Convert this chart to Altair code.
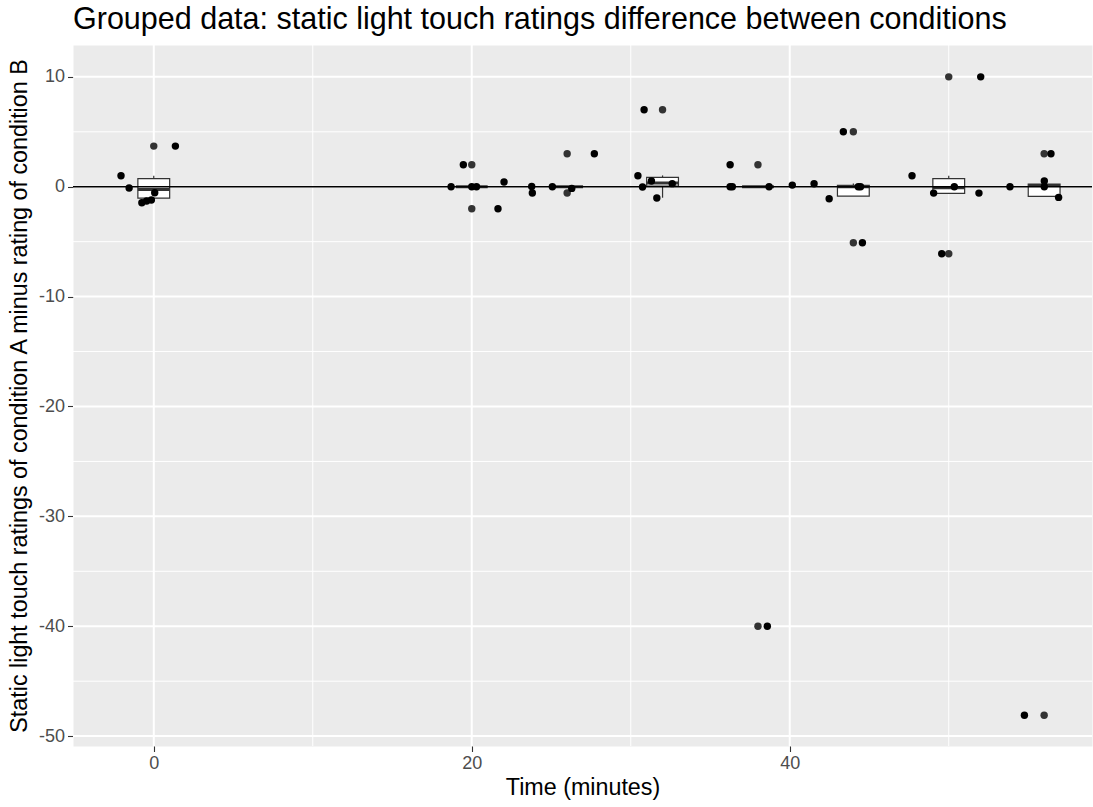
import altair as alt
import pandas as pd

# Box summaries per measurement time (minutes)
times = [0, 20, 26, 32, 38, 44, 50, 56]
q1 = [-1.03, 0.0, 0.0, 0.05, 0.0, -0.85, -0.61, -0.88]
median = [-0.24, 0.0, 0.0, 0.33, 0.0, 0.0, -0.1, 0.12]
q3 = [0.73, 0.0, 0.0, 0.85, 0.0, 0.12, 0.73, 0.25]
whisker_lo = [-1.3, 0.0, 0.0, -1.0, 0.0, -0.85, -0.61, -0.88]
whisker_hi = [1.0, 0.0, 0.0, 1.03, 0.0, 0.3, 1.0, 0.52]
box_half_width = 1.0

# Outliers, drawn at the box centre
outlier_time = [0, 20, 20, 26, 26, 32, 38, 38, 44, 44, 50, 50, 56, 56]
outlier_diff = [3.7, 2.0, -2.0, 3.0, -0.57, 7.0, 2.0, -40.0, 5.0, -5.1, 10.0, -6.1, 3.0, -48.1]

# Individual differences, jittered horizontally around their time
point_time = [1.36, -2.06, -1.55, 0.06, -0.75, -0.45, -0.15,
              18.70, 19.47, 20.0, 20.3, 21.65, 22.03,
              23.77, 23.81, 25.07, 27.71, 26.29,
              30.84, 30.45, 30.74, 31.3, 31.64, 32.61,
              36.25, 36.25, 36.39, 38.70, 38.59, 40.16,
              41.53, 42.48, 43.37, 44.57, 44.31, 44.45,
              47.69, 49.05, 52.01, 49.56, 50.35, 51.9,
              53.85, 54.76, 56.43, 56.01, 56.01, 56.91]
point_diff = [3.7, 1.0, -0.12, -0.55, -1.45, -1.3, -1.2,
              0.0, 2.0, 0.0, 0.0, -2.0, 0.43,
              0.03, -0.57, 0.0, 3.0, -0.15,
              7.0, 1.0, -0.03, 0.52, -1.02, 0.28,
              2.0, 0.0, 0.0, 0.0, -40.0, 0.15,
              0.27, -1.1, 5.0, -5.1, 0.0, 0.0,
              1.0, -0.58, 10.0, -6.1, 0.0, -0.58,
              0.0, -48.1, 3.0, 0.52, 0.0, -0.97]

x_major = [0, 20, 40]
x_minor = [10, 30, 50]
y_major = [-50, -40, -30, -20, -10, 0, 10]
y_minor = [-45, -35, -25, -15, -5, 5]

X_DOMAIN = [-5.08, 59.01]
Y_DOMAIN = [-50.9, 12.9]
W, H = 1019, 701
FONT = "Liberation Sans"

boxes = pd.DataFrame({
    "time": times, "q1": q1, "median": median, "q3": q3,
    "lo": whisker_lo, "hi": whisker_hi,
})
boxes["left"] = boxes["time"] - box_half_width
boxes["right"] = boxes["time"] + box_half_width
outliers = pd.DataFrame({"time": outlier_time, "diff": outlier_diff})
points = pd.DataFrame({"time": point_time, "diff": point_diff})

xs = alt.Scale(domain=X_DOMAIN, nice=False, zero=False)
ys = alt.Scale(domain=Y_DOMAIN, nice=False, zero=False)

common_axis = dict(
    grid=False, domain=False,
    tickColor="#333333", tickSize=5.5, tickWidth=1.1,
    labelColor="#4D4D4D", labelFontSize=18, labelFont=FONT, labelPadding=3,
    labelExpr="toString(datum.value)",
    titleFont=FONT, titleFontSize=23.3, titleFontWeight="normal", titleColor="black",
)
x_axis = alt.Axis(values=x_major, title="Time (minutes)", titlePadding=4, **common_axis)
y_axis = alt.Axis(values=y_major,
                  title="Static light touch ratings of condition A minus rating of condition B",
                  titlePadding=7, **common_axis)

# Panel grid
vmajor = alt.Chart(pd.DataFrame({"v": x_major})).mark_rule(color="white", strokeWidth=2).encode(
    x=alt.X("v:Q", scale=xs, axis=x_axis), y=alt.value(0), y2=alt.value(H))
vminor = alt.Chart(pd.DataFrame({"v": x_minor})).mark_rule(color="white", strokeWidth=1).encode(
    x=alt.X("v:Q", scale=xs), y=alt.value(0), y2=alt.value(H))
hmajor = alt.Chart(pd.DataFrame({"v": y_major})).mark_rule(color="white", strokeWidth=2).encode(
    y=alt.Y("v:Q", scale=ys, axis=y_axis), x=alt.value(0), x2=alt.value(W))
hminor = alt.Chart(pd.DataFrame({"v": y_minor})).mark_rule(color="white", strokeWidth=1).encode(
    y=alt.Y("v:Q", scale=ys), x=alt.value(0), x2=alt.value(W))

# Boxplots
upper_whisker = alt.Chart(boxes).mark_rule(color="#333333", strokeWidth=1.2).encode(
    x=alt.X("time:Q", scale=xs), y=alt.Y("q3:Q", scale=ys), y2="hi:Q")
lower_whisker = alt.Chart(boxes).mark_rule(color="#333333", strokeWidth=1.2).encode(
    x=alt.X("time:Q", scale=xs), y=alt.Y("q1:Q", scale=ys), y2="lo:Q")
box_body = alt.Chart(boxes).mark_rect(fill="white", stroke="#333333", strokeWidth=1.2).encode(
    x=alt.X("left:Q", scale=xs), x2="right:Q", y=alt.Y("q1:Q", scale=ys), y2="q3:Q")
box_median = alt.Chart(boxes).mark_rule(color="#333333", strokeWidth=3).encode(
    x=alt.X("left:Q", scale=xs), x2="right:Q", y=alt.Y("median:Q", scale=ys))
outlier_pts = alt.Chart(outliers).mark_circle(color="#333333", opacity=1, size=55).encode(
    x=alt.X("time:Q", scale=xs), y=alt.Y("diff:Q", scale=ys))

# Reference line at zero difference
zero_line = alt.Chart(pd.DataFrame({"v": [0]})).mark_rule(color="black", strokeWidth=1.3).encode(
    y=alt.Y("v:Q", scale=ys), x=alt.value(0), x2=alt.value(W))

jitter_pts = alt.Chart(points).mark_circle(color="black", opacity=1, size=55).encode(
    x=alt.X("time:Q", scale=xs), y=alt.Y("diff:Q", scale=ys))

chart = alt.layer(
    vminor, hminor, vmajor, hmajor,
    upper_whisker, lower_whisker, box_body, box_median, outlier_pts,
    zero_line, jitter_pts,
).properties(
    width=W, height=H,
    title=alt.Title("Grouped data: static light touch ratings difference between conditions",
                    anchor="start", frame="group", font=FONT, fontSize=30.5,
                    fontWeight="normal", color="black", offset=9),
    autosize=alt.AutoSizeParams(type="none"),
    padding={"left": 73, "top": 45, "right": 1, "bottom": 61},
    background="white",
).configure_view(fill="#EBEBEB", stroke="transparent")

chart.save("out.html", embed_options={"renderer": "svg", "actions": False})
